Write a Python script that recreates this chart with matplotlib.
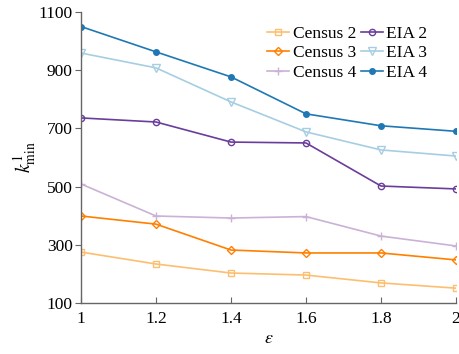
import matplotlib
matplotlib.use("Agg")
import matplotlib.pyplot as plt

# privacy budget values on the x axis
epsilon = [1.0, 1.2, 1.4, 1.6, 1.8, 2.0]

census_2 = [275, 234, 203, 196, 169, 151]
census_3 = [399, 371, 282, 272, 272, 248]
census_4 = [509, 399, 392, 397, 330, 296]
eia_2 = [736, 722, 653, 650, 502, 492]
eia_3 = [959, 908, 791, 688, 626, 605]
eia_4 = [1050, 963, 877, 750, 709, 690]

plt.rcParams['font.family'] = ['Liberation Serif', 'DejaVu Serif']
plt.rcParams['mathtext.fontset'] = 'stix'

fig = plt.figure(figsize=(4.59, 3.54), dpi=100)
ax = fig.add_axes([81 / 459, 1 - 303 / 354, 375 / 459, 291 / 354])

lw = 1.2
ms = 4.5
ax.plot(epsilon, census_2, color='#fdbf6f', marker='s', mfc='none', ms=ms, lw=lw, label='Census 2')
ax.plot(epsilon, census_3, color='#ff7f00', marker='D', mfc='none', ms=ms, lw=lw, label='Census 3')
ax.plot(epsilon, census_4, color='#cab2d6', marker='+', ms=ms + 1, lw=lw, label='Census 4')
ax.plot(epsilon, eia_2, color='#6a3d9a', marker='o', mfc='none', ms=ms, lw=lw, label='EIA 2')
ax.plot(epsilon, eia_3, color='#a6cee3', marker='v', mfc='none', ms=ms + 1, lw=lw, label='EIA 3')
ax.plot(epsilon, eia_4, color='#1f78b4', marker='o', ms=ms - 0.5, lw=lw, label='EIA 4')

ax.set_xlim(1, 2)
ax.set_ylim(100, 1100)
ax.set_xticks([1, 1.2, 1.4, 1.6, 1.8, 2])
ax.set_xticklabels(['1', '1.2', '1.4', '1.6', '1.8', '2'])
ax.set_yticks([100, 300, 500, 700, 900, 1100])

for side in ['top', 'right']:
    ax.spines[side].set_visible(False)
for side in ['left', 'bottom']:
    ax.spines[side].set_color('#666666')
    ax.spines[side].set_linewidth(1.0)

ax.tick_params(axis='y', direction='out', length=4, color='#666666', labelsize=12.5, pad=2)
ax.tick_params(axis='x', direction='in', length=4, color='#666666', labelsize=12.5, pad=6)

ax.set_xlabel(r'$\epsilon$', fontsize=13, labelpad=2)
ax.set_ylabel(r'$k^1_{\mathrm{min}}$', fontsize=14, labelpad=0)

ax.legend(ncol=2, loc='upper right', bbox_to_anchor=(0.924, 0.953), frameon=False,
          fontsize=12.5, handlelength=1.25, handletextpad=0.2, columnspacing=0.3,
          labelspacing=0.2, borderaxespad=0.0, borderpad=0.0)

fig.savefig('out.png', dpi=100)
